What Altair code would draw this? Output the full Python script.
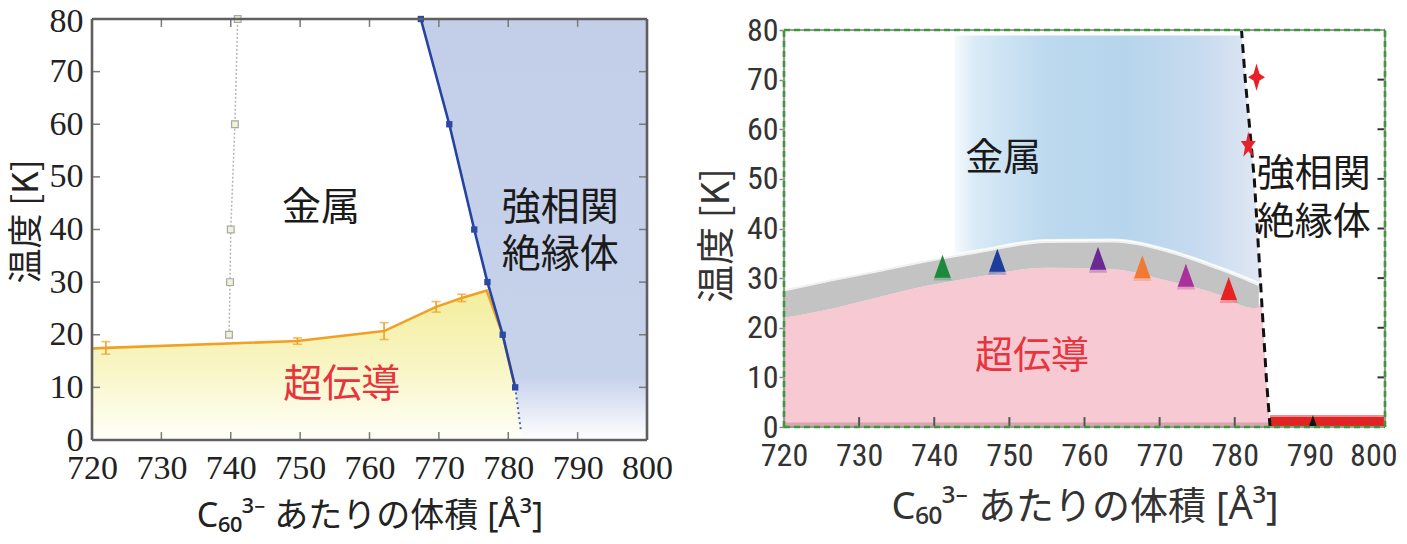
import altair as alt
import pandas as pd

FONT_JP = "Noto Sans CJK JP"
FONT_TITLE = "'Noto Sans', 'Noto Sans CJK JP', sans-serif"
NARROW = "'Liberation Sans Narrow', 'Arial Narrow', 'Roboto Condensed', 'DejaVu Sans Condensed', sans-serif"
XT = [720, 730, 740, 750, 760, 770, 780, 790, 800]
YT = [0, 10, 20, 30, 40, 50, 60, 70, 80]
XT_IN = [730, 740, 750, 760, 770, 780, 790]
YT_IN = [10, 20, 30, 40, 50, 60, 70]
XTITLE = "C₆₀³⁻ あたりの体積 [Å³]"
YTITLE = "温度 [K]"

# ---------------- Left panel data ----------------
L_dot_x = [739.75, 739.9, 740.0, 740.6, 741.0]
L_dot_y = [20, 30, 40, 60, 80]

L_mit_x = [767.4, 771.5, 775.1, 777.0, 779.2, 781.0]
L_mit_y = [80, 60, 40, 30, 20, 10]
L_tail_x = [781.0, 781.8]
L_tail_y = [10, 2]

L_tc_x = [720.0, 722.0, 749.6, 762.1, 769.6, 773.3, 776.9, 779.2, 781.0]
L_tc_y = [17.4, 17.5, 18.8, 20.7, 25.3, 27.0, 28.4, 20.0, 10.0]

L_err_x = [722.0, 749.6, 762.1, 769.6, 773.3]
L_err_y = [17.5, 18.8, 20.7, 25.3, 27.0]
L_err_e = [1.2, 0.6, 1.6, 1.0, 0.7]

L_ins_x = [782.0, 781.0, 779.2, 777.0, 775.1, 771.5, 767.4]
L_ins_y = [0, 10, 20, 30, 40, 60, 80]

L_sc_x = [720.0, 722.0, 749.6, 762.1, 769.6, 773.3, 776.9, 779.2, 781.0, 782.0]
L_sc_y = [17.4, 17.5, 18.8, 20.7, 25.3, 27.0, 28.4, 20.0, 10.0, 0.0]

L_lab_t = ["金属", "強相関\n絶縁体", "超伝導"]
L_lab_x = [753.0, 787.5, 756.0]
L_lab_y = [44.0, 44.15, 10.5]
L_lab_c = ["#1a1a1a", "#1a1a1a", "#e8343c"]

# ---------------- Right panel data ----------------
R_band_x = [720, 726.5, 733.2, 737.3, 746.2, 754.8, 763.7, 771.2, 777.8, 782.3, 783.2]
R_band_hi = [27.7, 29.8, 31.8, 33.1, 35.5, 37.5, 37.6, 35.5, 32.1, 29.4, 28.8]
R_band_lo = [22.0, 23.9, 26.4, 27.9, 30.4, 32.1, 31.8, 29.4, 26.7, 24.0, 24.0]

R_pink_x = [720, 726.5, 733.2, 737.3, 746.2, 754.8, 763.7, 771.2, 777.8, 782.3, 783.2, 784.0, 785.5]
R_pink_y = [22.0, 23.9, 26.4, 27.9, 30.4, 32.1, 31.8, 29.4, 26.7, 24.0, 24.5, 26.0, 26.0]

R_blue_x = [742.7, 746.2, 754.8, 763.7, 771.2, 777.8, 784.0]
R_blue_lo = [34.6, 35.6, 37.7, 37.8, 35.7, 32.3, 28.5]
R_blue_hi = [78.9, 78.9, 78.9, 78.9, 78.9, 78.9, 78.9]

R_dash_x = [784.7, 784.2, 783.4, 782.6, 781.4, 780.9]
R_dash_y = [0, 10, 30, 50, 70, 80]

R_tri_x = [741.1, 748.4, 761.8, 767.7, 773.5, 779.2]
R_tri_y = [32.4, 33.6, 34.0, 32.3, 30.6, 27.9]
R_tri_c = ["#1b8a3c", "#1c3d9e", "#6b2a92", "#f07a32", "#a8329a", "#e82222"]

R_star_x = [782.9, 781.8]
R_star_y = [70.5, 56.8]

R_ins_x = [790.4]
R_ins_y = [1.2]
R_bar_x = [784.7]
R_bar_x2 = [800.0]
R_bar_y2 = [2.2]

R_lab_t = ["金属", "強相関\n絶縁体", "超伝導"]
R_lab_x = [749.2, 790.5, 753.0]
R_lab_y = [54.0, 50.75, 14.2]
R_lab_c = ["#1a1a1a", "#1a1a1a", "#e8343c"]


def grad(stops, horizontal=False):
    if horizontal:
        return alt.LinearGradient(gradient="linear", x1=0, x2=1, y1=0, y2=0,
                                  stops=[alt.GradientStop(offset=o, color=c) for o, c in stops])
    return alt.LinearGradient(gradient="linear", x1=0, x2=0, y1=1, y2=0,
                              stops=[alt.GradientStop(offset=o, color=c) for o, c in stops])


def frame_df():
    return pd.DataFrame({"x": [720, 720, 720, 800], "x2": [800, 800, 720, 800],
                         "y": [80, 0, 0, 0], "y2": [80, 0, 80, 80]})


# ======================= LEFT =======================
sxL = alt.Scale(domain=[720, 800], nice=False, zero=False)
syL = alt.Scale(domain=[0, 80], nice=False, zero=False)
axLx = alt.Axis(values=XT, title=XTITLE, grid=False, domain=False, ticks=False,
                labelFont="Liberation Serif", labelFontSize=34, labelColor="#222",
                labelPadding=11, labelFlush=False, labelOverlap=False,
                titleFont=FONT_TITLE, titleFontSize=34, titleFontWeight="normal",
                titleColor="#222", titlePadding=14)
axLy = alt.Axis(values=YT, title=YTITLE, grid=False, domain=False, ticks=False,
                labelFont="Liberation Serif", labelFontSize=34, labelColor="#222",
                labelPadding=9, labelFlush=False, labelOverlap=False,
                labelOffset={"condition": {"test": "datum.value == 80", "value": 2}, "value": 0},
                titleFont=FONT_JP, titleFontSize=35, titleFontWeight="normal",
                titleColor="#222", titlePadding=5, titleY=202)


def LX(f):
    return alt.X(f"{f}:Q", scale=sxL, axis=axLx)


def LY(f):
    return alt.Y(f"{f}:Q", scale=syL, axis=axLy)


df_ins = pd.DataFrame({"x": L_ins_x, "y": L_ins_y, "x2": 800.0})
l_ins = alt.Chart(df_ins).mark_area(
    orient="horizontal",
    fill=grad([(0, "#ffffff"), (0.15, "#c6d1ea"), (1, "#c3cee9")])
).encode(y=LY("y"), x=LX("x"), x2=alt.X2("x2:Q"))

df_sc = pd.DataFrame({"x": L_sc_x, "y": L_sc_y, "y0": 0.0})
l_sc = alt.Chart(df_sc).mark_area(
    fill=grad([(0, "#fffff8"), (0.5, "#f8f5c4"), (1, "#f3ee9c")])
).encode(x=LX("x"), y=LY("y"), y2=alt.Y2("y0:Q"))

df_dot = pd.DataFrame({"x": L_dot_x, "y": L_dot_y})
l_dot = alt.Chart(df_dot).mark_line(color="#b4b4b4", strokeWidth=1.5, strokeDash=[2, 2]).encode(
    x=LX("x"), y=LY("y"), order="y:Q")
l_dotp = alt.Chart(df_dot).mark_point(shape="square", size=45, filled=True, fill="#f2f2d6",
                                      stroke="#a8a8a8", strokeWidth=1.2, opacity=1).encode(
    x=LX("x"), y=LY("y"))

df_tc = pd.DataFrame({"x": L_tc_x, "y": L_tc_y})
l_tc = alt.Chart(df_tc).mark_line(color="#f0a024", strokeWidth=2.6).encode(x=LX("x"), y=LY("y"))

df_err = pd.DataFrame({"x": L_err_x, "lo": [a - b for a, b in zip(L_err_y, L_err_e)],
                       "hi": [a + b for a, b in zip(L_err_y, L_err_e)]})
l_err = alt.Chart(df_err).mark_rule(color="#f0a024", strokeWidth=1.6).encode(
    x=LX("x"), y=LY("lo"), y2=alt.Y2("hi:Q"))
l_cap1 = alt.Chart(df_err).mark_tick(orient="horizontal", size=9, thickness=1.6, color="#f0a024").encode(
    x=LX("x"), y=LY("lo"))
l_cap2 = alt.Chart(df_err).mark_tick(orient="horizontal", size=9, thickness=1.6, color="#f0a024").encode(
    x=LX("x"), y=LY("hi"))

df_tail = pd.DataFrame({"x": L_tail_x, "y": L_tail_y})
l_tail = alt.Chart(df_tail).mark_line(color="#5566b5", strokeWidth=2, strokeDash=[2, 3]).encode(
    x=LX("x"), y=LY("y"))

df_mit = pd.DataFrame({"x": L_mit_x, "y": L_mit_y})
l_mit = alt.Chart(df_mit).mark_line(color="#2443a3", strokeWidth=2.6).encode(x=LX("x"), y=LY("y"))
l_mitp = alt.Chart(df_mit).mark_point(shape="square", size=40, filled=True, color="#2a48a8",
                                      opacity=1).encode(x=LX("x"), y=LY("y"))

tl = 1.5
tx = 80 * 8 / 555 * 1.0
df_tb = pd.DataFrame({"x": XT_IN, "y": 0.0, "y2": tl})
df_tt = pd.DataFrame({"x": XT_IN, "y": 80.0, "y2": 80 - tl})
df_tlft = pd.DataFrame({"y": YT_IN, "x": 720.0, "x2": 720 + tx})
df_trgt = pd.DataFrame({"y": YT_IN, "x": 800.0, "x2": 800 - tx})
tick_style = dict(color="#7a7a7a", strokeWidth=1.5)
l_t1 = alt.Chart(df_tb).mark_rule(**tick_style).encode(x=LX("x"), y=LY("y"), y2=alt.Y2("y2:Q"))
l_t2 = alt.Chart(df_tt).mark_rule(**tick_style).encode(x=LX("x"), y=LY("y"), y2=alt.Y2("y2:Q"))
l_t3 = alt.Chart(df_tlft).mark_rule(**tick_style).encode(y=LY("y"), x=LX("x"), x2=alt.X2("x2:Q"))
l_t4 = alt.Chart(df_trgt).mark_rule(**tick_style).encode(y=LY("y"), x=LX("x"), x2=alt.X2("x2:Q"))

l_frame = alt.Chart(frame_df()).mark_rule(color="#5f5f5f", strokeWidth=2.6).encode(
    x=LX("x"), x2=alt.X2("x2:Q"), y=LY("y"), y2=alt.Y2("y2:Q"))

df_lab = pd.DataFrame({"x": L_lab_x, "y": L_lab_y, "t": L_lab_t, "c": L_lab_c})
l_txt = alt.Chart(df_lab).mark_text(font=FONT_JP, fontSize=39, lineBreak="\n", lineHeight=47,
                                    align="center", baseline="middle").encode(
    x=LX("x"), y=LY("y"), text="t:N", color=alt.Color("c:N", scale=None))

left = alt.layer(l_ins, l_sc, l_dot, l_dotp, l_tc, l_err, l_cap1, l_cap2, l_tail, l_mit, l_mitp,
                 l_t1, l_t2, l_t3, l_t4, l_frame, l_txt).properties(width=555, height=421)

# ======================= RIGHT =======================
RH = 408  # group height; the plot frame starts 11 px lower than the left one
sxR = alt.Scale(domain=[720, 800], nice=False, zero=False)
syR = alt.Scale(domain=[0, 80], nice=False, zero=False, range=[RH, 11])
axRx = alt.Axis(values=XT, title=XTITLE, grid=False, domain=False, ticks=False,
                labelFont=NARROW, labelFontSize=32, labelColor="#333",
                labelPadding=13, labelFlush=False, labelOverlap=False,
                labelAlign={"condition": {"test": "datum.value == 800", "value": "right"}, "value": "center"},
                labelOffset={"condition": {"test": "datum.value == 800", "value": 12}, "value": 0},
                titleFont=FONT_TITLE, titleFontSize=38, titleFontWeight="normal",
                titleColor="#333", titlePadding=17)
axRy = alt.Axis(values=YT, title=YTITLE, grid=False, domain=False, ticks=True, tickSize=5,
                tickColor="#888", tickWidth=1.5,
                labelFont=NARROW, labelFontSize=32, labelColor="#333",
                labelPadding=1, labelFlush=False, labelOverlap=False,
                titleFont=FONT_JP, titleFontSize=38, titleFontWeight="normal",
                titleColor="#333", titlePadding=10, titleY=216)


def RX(f):
    return alt.X(f"{f}:Q", scale=sxR, axis=axRx)


def RY(f):
    return alt.Y(f"{f}:Q", scale=syR, axis=axRy)


df_pink = pd.DataFrame({"x": R_pink_x, "y": R_pink_y, "y0": 0.0})
r_pink = alt.Chart(df_pink).mark_area(color="#f7c9d3", interpolate="monotone").encode(
    x=RX("x"), y=RY("y"), y2=alt.Y2("y0:Q"))

df_pstrip = pd.DataFrame({"x": [720.0], "x2": R_bar_x, "y": [0.0], "y2": [0.9]})
r_pstrip = alt.Chart(df_pstrip).mark_rect(color="#dba4ae").encode(
    x=RX("x"), x2=alt.X2("x2:Q"), y=RY("y"), y2=alt.Y2("y2:Q"))

df_blue = pd.DataFrame({"x": R_blue_x, "lo": R_blue_lo, "hi": R_blue_hi})
r_blue = alt.Chart(df_blue).mark_area(
    interpolate="monotone",
    fill=grad([(0, "#f6fafd"), (0.07, "#d8eaf6"), (0.3, "#bcd9ee"), (0.55, "#b6d5ec"),
               (0.8, "#c8dbef"), (1, "#e2e8f4")], horizontal=True)
).encode(x=RX("x"), y=RY("lo"), y2=alt.Y2("hi:Q"))

df_band = pd.DataFrame({"x": R_band_x, "lo": R_band_lo, "hi": R_band_hi})
r_band = alt.Chart(df_band).mark_area(color="#c3c3c3", interpolate="monotone").encode(
    x=RX("x"), y=RY("lo"), y2=alt.Y2("hi:Q"))
r_rim = alt.Chart(df_band).mark_line(color="#ffffff", strokeWidth=4, opacity=0.75,
                                     interpolate="monotone").encode(x=RX("x"), y=RY("hi"))

df_mask = pd.DataFrame({"x": R_dash_x, "y": R_dash_y, "x2": 800.0})
r_mask = alt.Chart(df_mask).mark_area(orient="horizontal", color="#ffffff").encode(
    y=RY("y"), x=RX("x"), x2=alt.X2("x2:Q"))

df_bar = pd.DataFrame({"x": R_bar_x, "x2": R_bar_x2, "y": [0.0], "y2": R_bar_y2})
r_bar = alt.Chart(df_bar).mark_rect(color="#e02424").encode(
    x=RX("x"), x2=alt.X2("x2:Q"), y=RY("y"), y2=alt.Y2("y2:Q"))
r_bartop = alt.Chart(df_bar).mark_rule(color="#f08c8c", strokeWidth=2).encode(
    x=RX("x"), x2=alt.X2("x2:Q"), y=RY("y2"))

df_dash = pd.DataFrame({"x": R_dash_x, "y": R_dash_y})
r_dash = alt.Chart(df_dash).mark_line(color="#111", strokeWidth=3, strokeDash=[9, 6]).encode(
    x=RX("x"), y=RY("y"), order="y:Q")

TRI = "M0,-1L0.72,1L-0.72,1Z"
TRI_HALO = "M0,-0.7L0.8,1.25L-0.8,1.25Z"
df_tri = pd.DataFrame({"x": R_tri_x, "y": R_tri_y, "c": R_tri_c})
r_halo = alt.Chart(df_tri).mark_point(shape=TRI_HALO, size=529, filled=True, opacity=0.3).encode(
    x=RX("x"), y=RY("y"), color=alt.Color("c:N", scale=None))
r_tri = alt.Chart(df_tri).mark_point(shape=TRI, size=529, filled=True, opacity=1).encode(
    x=RX("x"), y=RY("y"), color=alt.Color("c:N", scale=None))

STAR4 = "M0,-1L0.22,-0.25L0.62,0L0.22,0.25L0,1L-0.22,0.25L-0.62,0L-0.22,-0.25Z"
STAR5 = "M0,-1L0.15,-0.3L0.55,-0.3L0.24,0.14L0.36,0.85L0,0.45L-0.36,0.85L-0.24,0.14L-0.55,-0.3L-0.15,-0.3Z"
df_s1 = pd.DataFrame({"x": R_star_x[:1], "y": R_star_y[:1]})
df_s2 = pd.DataFrame({"x": R_star_x[1:], "y": R_star_y[1:]})
r_s1 = alt.Chart(df_s1).mark_point(shape=STAR4, size=750, filled=True, color="#e8202a", opacity=1).encode(
    x=RX("x"), y=RY("y"))
r_s2 = alt.Chart(df_s2).mark_point(shape=STAR5, size=750, filled=True, color="#e8202a", opacity=1).encode(
    x=RX("x"), y=RY("y"))

df_ins2 = pd.DataFrame({"x": R_ins_x, "y": R_ins_y})
r_ins = alt.Chart(df_ins2).mark_point(shape=TRI, size=130, filled=True, color="#111", opacity=1).encode(
    x=RX("x"), y=RY("y"))

df_rtb = pd.DataFrame({"x": XT_IN[:-1], "y": 0.0, "y2": 2.0})
df_rtr = pd.DataFrame({"y": YT_IN, "x": 800.0, "x2": 799.0})
r_t1 = alt.Chart(df_rtb).mark_rule(color="#555", strokeWidth=2).encode(
    x=RX("x"), y=RY("y"), y2=alt.Y2("y2:Q"))
r_t2 = alt.Chart(df_rtr).mark_rule(color="#333", strokeWidth=2).encode(
    y=RY("y"), x=RX("x"), x2=alt.X2("x2:Q"))

r_frame_g = alt.Chart(frame_df()).mark_rule(color="#9a9a9a", strokeWidth=2.2).encode(
    x=RX("x"), x2=alt.X2("x2:Q"), y=RY("y"), y2=alt.Y2("y2:Q"))
r_frame_d = alt.Chart(frame_df()).mark_rule(color="#3a9a3a", strokeWidth=2.6, strokeDash=[6, 4]).encode(
    x=RX("x"), x2=alt.X2("x2:Q"), y=RY("y"), y2=alt.Y2("y2:Q"))

df_rlab = pd.DataFrame({"x": R_lab_x, "y": R_lab_y, "t": R_lab_t, "c": R_lab_c})
r_txt = alt.Chart(df_rlab).mark_text(font=FONT_JP, fontSize=38, lineBreak="\n", lineHeight=48,
                                     align="center", baseline="middle").encode(
    x=RX("x"), y=RY("y"), text="t:N", color=alt.Color("c:N", scale=None))

right = alt.layer(r_pink, r_pstrip, r_blue, r_band, r_rim, r_mask, r_bar, r_bartop, r_dash,
                  r_halo, r_tri, r_s1, r_s2, r_ins, r_t1, r_t2, r_frame_g, r_frame_d, r_txt).properties(
    width=601, height=RH)

chart = alt.hconcat(left, right, spacing=24).properties(
    padding={"left": 0, "top": -5, "right": 0, "bottom": 0},
    background="#ffffff"
).configure_view(stroke="transparent")

chart.save("out.html", embed_options={"renderer": "svg", "actions": False})
